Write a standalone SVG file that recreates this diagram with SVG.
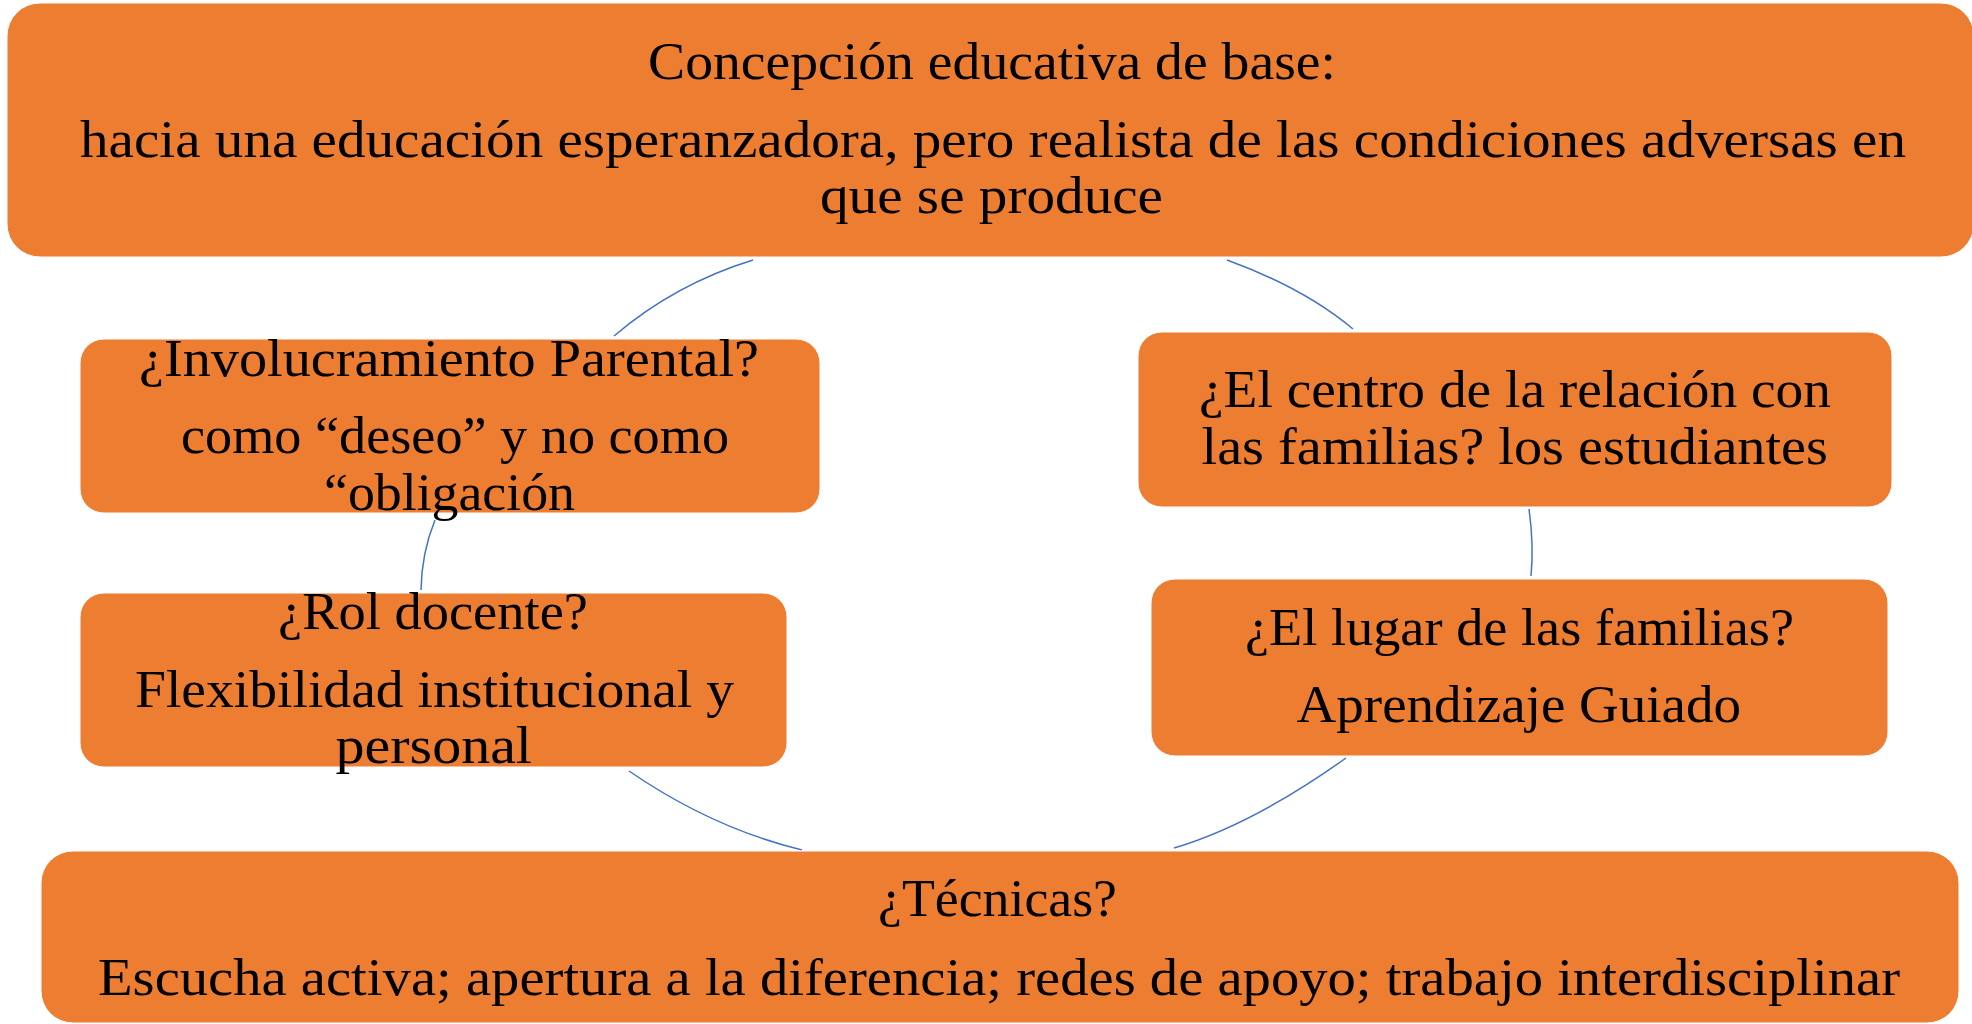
<svg xmlns="http://www.w3.org/2000/svg" width="1972" height="1024" viewBox="0 0 1972 1024">
<style>
.box{fill:#ED7D31;stroke:#FFFFFF;stroke-width:1}
.t{font-family:"Liberation Serif","Times New Roman",serif;font-size:53px;fill:#000000}
.c{fill:none;stroke:#4472C4;stroke-width:1.5}
</style>
<rect width="1972" height="1024" fill="#FFFFFF"/>
<g id="connectors">
<path class="c" d="M753,260 Q675,284 614,336"/>
<path class="c" d="M1227,260 Q1304,288 1353,329"/>
<path class="c" d="M435,520 Q421.6,553 421,590"/>
<path class="c" d="M1529,509 Q1534,545.5 1531,576"/>
<path class="c" d="M629,771 Q712,828 802,850"/>
<path class="c" d="M1346,758 Q1252,825 1174,848"/>
</g>
<g id="node-concepcion">
<rect class="box" x="7" y="3" width="1967" height="254" rx="33"/>
<text class="t" x="648" y="79" textLength="688" lengthAdjust="spacingAndGlyphs">Concepción educativa de base:</text>
<text class="t" x="80" y="157" textLength="1826" lengthAdjust="spacingAndGlyphs">hacia una educación esperanzadora, pero realista de las condiciones adversas en</text>
<text class="t" x="820" y="213" textLength="343" lengthAdjust="spacingAndGlyphs">que se produce</text>
</g>
<g id="node-involucramiento">
<rect class="box" x="80" y="339" width="740" height="174" rx="24"/>
<text class="t" x="139" y="376" textLength="620" lengthAdjust="spacingAndGlyphs">¿Involucramiento Parental?</text>
<text class="t" x="181" y="453" textLength="548" lengthAdjust="spacingAndGlyphs">como “deseo” y no como</text>
<text class="t" x="324" y="509.5" textLength="251" lengthAdjust="spacingAndGlyphs">“obligación</text>
</g>
<g id="node-rol">
<rect class="box" x="80" y="593" width="707" height="174" rx="24"/>
<text class="t" x="278" y="629" textLength="310" lengthAdjust="spacingAndGlyphs">¿Rol docente?</text>
<text class="t" x="135" y="707" textLength="599" lengthAdjust="spacingAndGlyphs">Flexibilidad institucional y</text>
<text class="t" x="335.5" y="763" textLength="196.5" lengthAdjust="spacingAndGlyphs">personal</text>
</g>
<g id="node-centro">
<rect class="box" x="1138" y="332" width="754" height="175" rx="24"/>
<text class="t" x="1199" y="407" textLength="632" lengthAdjust="spacingAndGlyphs">¿El centro de la relación con</text>
<text class="t" x="1201.5" y="463.5" textLength="626.5" lengthAdjust="spacingAndGlyphs">las familias? los estudiantes</text>
</g>
<g id="node-lugar">
<rect class="box" x="1151" y="579" width="737" height="177" rx="24"/>
<text class="t" x="1245" y="644.6" textLength="549" lengthAdjust="spacingAndGlyphs">¿El lugar de las familias?</text>
<text class="t" x="1296.6" y="722" textLength="444.4" lengthAdjust="spacingAndGlyphs">Aprendizaje Guiado</text>
</g>
<g id="node-tecnicas">
<rect class="box" x="41" y="851" width="1918" height="172" rx="32"/>
<text class="t" x="878" y="916" textLength="239" lengthAdjust="spacingAndGlyphs">¿Técnicas?</text>
<text class="t" x="98" y="995" textLength="1802" lengthAdjust="spacingAndGlyphs">Escucha activa; apertura a la diferencia; redes de apoyo; trabajo interdisciplinar</text>
</g>
</svg>
